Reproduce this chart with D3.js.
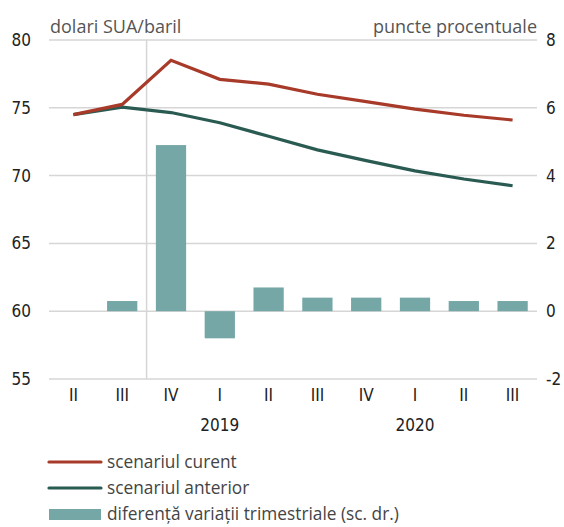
<!DOCTYPE html>
<html><head><meta charset="utf-8">
<script src="https://cdn.jsdelivr.net/npm/d3@7"></script>
<style>body{margin:0;background:#fff}</style>
</head><body>
<svg id="c" width="564" height="527"></svg>
<script>
const quarters = ["II","III","IV","I","II","III","IV","I","II","III"];
const years = [{label:"2019", idx:3},{label:"2020", idx:7}];
const current = [74.5,75.25,78.5,77.1,76.75,76.0,75.45,74.9,74.45,74.1];
const previous = [74.5,75.05,74.65,73.9,72.9,71.9,71.1,70.35,69.75,69.25];
const diff = [null,0.3,4.9,-0.8,0.7,0.4,0.4,0.4,0.3,0.3];
const leftTicks = [55,60,65,70,75,80];
const rightTicks = [-2,0,2,4,6,8];

const svg = d3.select("#c");
const L=49, R=537, T=40, B=379;
const x = d3.scaleBand().domain(d3.range(quarters.length)).range([L,R]).paddingInner(0.38).paddingOuter(0.19);
const xc = i => x(i)+x.bandwidth()/2;
const yL = d3.scaleLinear().domain([55,80]).range([B,T]);
const yR = d3.scaleLinear().domain([-2,8]).range([B,T]);
const tickFont = "'Liberation Sans Narrow','DejaVu Sans Condensed',sans-serif";
const textFont = "'Open Sans','DejaVu Sans',sans-serif";

// gridlines
svg.append("g").selectAll("line").data(leftTicks).join("line")
  .attr("x1",L).attr("x2",R).attr("y1",d=>yL(d)).attr("y2",d=>yL(d))
  .attr("stroke","#d6d6d6").attr("stroke-width",1.5);
// vertical separator
const sepX = (x(1)+x.bandwidth()+x(2))/2;
svg.append("line").attr("x1",sepX).attr("x2",sepX).attr("y1",T).attr("y2",B)
  .attr("stroke","#d6d6d6").attr("stroke-width",1.5);

// bars
svg.append("g").selectAll("rect").data(diff.map((v,i)=>({v,i})).filter(d=>d.v!==null)).join("rect")
  .attr("x",d=>x(d.i)).attr("width",x.bandwidth())
  .attr("y",d=>yR(Math.max(0,d.v))).attr("height",d=>Math.abs(yR(d.v)-yR(0)))
  .attr("fill","#74a7a6");

// lines
const line = d3.line().x((d,i)=>xc(i)).y(d=>yL(d));
svg.append("path").datum(previous).attr("d",line).attr("fill","none").attr("stroke","#2a5b52").attr("stroke-width",3.2);
svg.append("path").datum(current).attr("d",line).attr("fill","none").attr("stroke","#a83a2a").attr("stroke-width",3.2);

// left axis
const axL = d3.axisLeft(yL).tickValues(leftTicks).tickFormat(d=>String(d)).tickSize(0).tickPadding(0);
const gL = svg.append("g").attr("transform",`translate(31,0)`).call(axL);
gL.select(".domain").remove();
gL.selectAll("text").attr("font-family",tickFont).attr("font-size",17).attr("fill","#222");
// right axis
const axR = d3.axisRight(yR).tickValues(rightTicks).tickFormat(d=>String(d)).tickSize(0).tickPadding(0);
const gR = svg.append("g").attr("transform",`translate(546,0)`).call(axR);
gR.select(".domain").remove();
gR.selectAll("text").attr("font-family",tickFont).attr("font-size",17).attr("fill","#222");
// bottom axis
const axB = d3.axisBottom(x).tickFormat(i=>quarters[i]).tickSize(0).tickPadding(10);
const gB = svg.append("g").attr("transform",`translate(0,${B})`).call(axB);
gB.select(".domain").remove();
gB.selectAll("text").attr("font-family",tickFont).attr("font-size",17).attr("fill","#222");
svg.append("g").selectAll("text").data(years).join("text")
  .attr("x",d=>xc(d.idx)).attr("y",431).attr("text-anchor","middle")
  .attr("font-family",tickFont).attr("font-size",17).attr("fill","#222").text(d=>d.label);

// axis titles
svg.append("text").attr("x",50).attr("y",33).attr("font-family",textFont).attr("font-size",18)
  .attr("fill","#555").text("dolari SUA/baril");
svg.append("text").attr("x",537).attr("y",33).attr("text-anchor","end").attr("font-family",textFont).attr("font-size",18)
  .attr("fill","#555").text("puncte procentuale");

// legend
const legend = [
  {label:"scenariul curent", type:"line", color:"#a83a2a"},
  {label:"scenariul anterior", type:"line", color:"#2a5b52"},
  {label:"diferență variații trimestriale (sc. dr.)", type:"rect", color:"#74a7a6"}
];
const lg = svg.append("g").selectAll("g").data(legend).join("g")
  .attr("transform",(d,i)=>`translate(49,${462+i*26})`);
lg.filter(d=>d.type==="line").append("line").attr("x1",0).attr("x2",52).attr("y1",0).attr("y2",0)
  .attr("stroke",d=>d.color).attr("stroke-width",3.2).attr("stroke-linecap","round");
lg.filter(d=>d.type==="rect").append("rect").attr("x",0).attr("y",-5).attr("width",52).attr("height",11)
  .attr("fill",d=>d.color);
lg.append("text").attr("x",58).attr("y",6).attr("font-family",textFont).attr("font-size",17.3)
  .attr("fill","#444").text(d=>d.label);
</script>
</body></html>
